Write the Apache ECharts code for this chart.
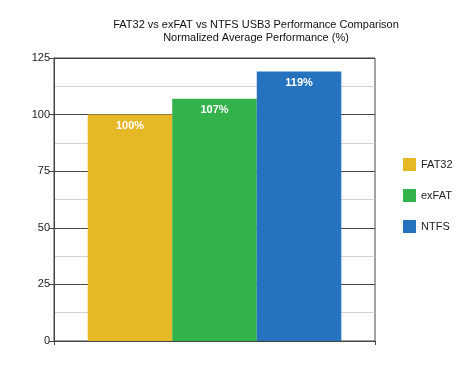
<!DOCTYPE html>
<html><head><meta charset="utf-8">
<script src="https://cdn.jsdelivr.net/npm/echarts@6/dist/echarts.min.js"></script>
<style>html,body{margin:0;padding:0;background:#fff}#c{width:466px;height:366px}</style>
</head><body><div id="c"></div>
<script>
var titleLines = ['FAT32 vs exFAT vs NTFS USB3 Performance Comparison', 'Normalized Average Performance (%)'];
var categories = [''];
var seriesNames = ['FAT32', 'exFAT', 'NTFS'];
var seriesValues = [100, 107, 119];
var seriesColors = ['#E7B826', '#33B24C', '#2572BE'];
var yTicks = [0, 25, 50, 75, 100, 125];

var chart = echarts.init(document.getElementById('c'), null, {renderer: 'canvas'});
var font = '"Liberation Sans", Arial, sans-serif';
var series = seriesNames.map(function (n, i) {
  return {
    name: n, type: 'bar', data: [seriesValues[i]],
    barGap: '0%', barCategoryGap: '21%',
    itemStyle: {color: seriesColors[i]},
    label: {show: true, position: 'insideTop', distance: 6, formatter: '{c}%',
      color: '#fff', fontWeight: 'bold', fontSize: 11, fontFamily: font}
  };
});
chart.setOption({
  animation: false,
  backgroundColor: '#fff',
  title: {text: titleLines.join('\n'), left: 251, textAlign: 'center', top: 13,
    textStyle: {fontSize: 11, fontWeight: 'normal', color: '#111', fontFamily: font, lineHeight: 13}},
  legend: {orient: 'vertical', left: 398, top: 153, itemWidth: 13, itemHeight: 13, itemGap: 18,
    icon: 'rect', textStyle: {fontSize: 11, color: '#222', fontFamily: font}, data: seriesNames},
  grid: {left: 54, right: 91, top: 58, bottom: 25, show: true, borderColor: '#444', borderWidth: 1},
  xAxis: {type: 'category', data: categories,
    axisLine: {lineStyle: {color: '#444'}},
    axisTick: {show: true, length: 4, lineStyle: {color: '#444'}},
    axisLabel: {show: false}},
  yAxis: {type: 'value', min: yTicks[0], max: yTicks[yTicks.length - 1], interval: 25,
    axisLine: {show: true, lineStyle: {color: '#444'}},
    axisTick: {show: true, length: 5, lineStyle: {color: '#444'}},
    axisLabel: {fontSize: 11, color: '#222', fontFamily: font, margin: 4},
    splitLine: {show: true, lineStyle: {color: '#444'}},
    minorTick: {show: false, splitNumber: 2},
    minorSplitLine: {show: true, lineStyle: {color: '#d2d2d2'}}},
  series: series
});
</script></body></html>
